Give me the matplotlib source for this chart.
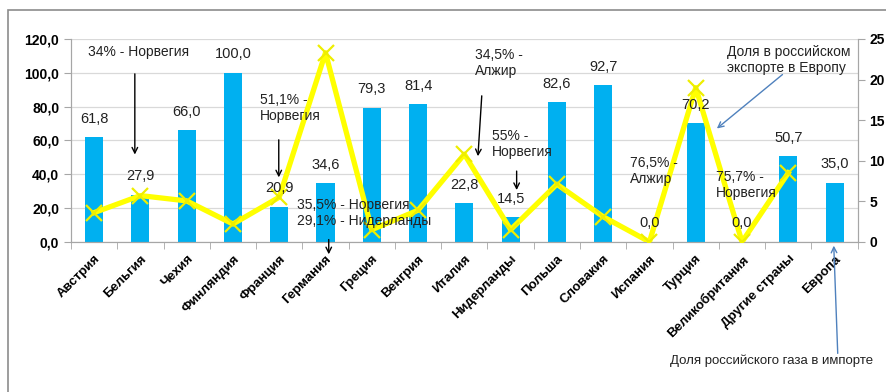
import matplotlib.pyplot as plt
import matplotlib.patches as mpatches
import numpy as np

countries = ['Австрия', 'Бельгия', 'Чехия', 'Финляндия', 'Франция', 'Германия', 'Греция',
             'Венгрия', 'Италия', 'Нидерланды', 'Польша', 'Словакия', 'Испания', 'Турция',
             'Великобритания', 'Другие страны', 'Европа']
# доля российского газа в импорте, %
import_share = [61.8, 27.9, 66.0, 100.0, 20.9, 34.6, 79.3, 81.4, 22.8, 14.5, 82.6, 92.7,
                0.0, 70.2, 0.0, 50.7, 35.0]
# доля в российском экспорте в Европу, %
export_share = [3.6, 5.7, 5.05, 2.2, 5.5, 23.3, 1.5, 3.9, 10.8, 1.5, 7.1, 3.1,
                0.0, 19.0, 0.0, 8.5, np.nan]

plt.rcParams['font.family'] = ['Liberation Sans', 'DejaVu Sans']

fig = plt.figure(figsize=(8.87, 3.92), dpi=100)
ax = fig.add_axes([0.080, 0.383, 0.887, 0.5176])
ax2 = ax.twinx()

x = np.arange(len(countries))
ax.bar(x, import_share, width=0.39, color='#00B0F0', zorder=2)
ax2.plot(x, export_share, color='#FFFF00', linewidth=3.8, marker='x', markersize=11,
         markeredgewidth=1.6, markeredgecolor='#EEEE00', zorder=3)

ax.set_xlim(-0.5, len(countries) - 0.5)
ax.set_ylim(0, 120)
ax2.set_ylim(0, 25)
ax.set_yticks(np.arange(0, 121, 20))
ax.set_yticklabels([f'{v:.1f}'.replace('.', ',') for v in range(0, 121, 20)],
                   fontweight='bold', fontsize=10)
ax2.set_yticks(np.arange(0, 26, 5))
ax2.set_yticklabels([str(v) for v in range(0, 26, 5)], fontweight='bold', fontsize=10)
ax.grid(axis='y', color='#D9D9D9', linewidth=0.9, zorder=0)
ax.set_axisbelow(True)

ax.set_xticks(x)
ax.set_xticklabels(countries, rotation=45, ha='right', rotation_mode='anchor',
                   fontweight='bold', fontsize=9.5)
ax.tick_params(axis='x', length=0, pad=8)
ax.set_xticks(np.arange(-0.5, len(countries), 1), minor=True)
ax.tick_params(axis='x', which='minor', length=5, color='#A6A6A6')
ax.tick_params(axis='y', length=5, color='#A6A6A6')
ax2.tick_params(axis='y', length=5, color='#A6A6A6')

for a in (ax, ax2):
    a.spines['top'].set_visible(False)
    for s in ('left', 'right', 'bottom'):
        a.spines[s].set_color('#A6A6A6')

# подписи столбцов
for xi, v in zip(x, import_share):
    ax2.text(xi, v + 11, f'{v:.1f}'.replace('.', ','), transform=ax.transData,
             ha='center', va='center', fontsize=10.5, color='#222222', zorder=5)


def note(text, xytext, ha='left', size=10):
    ax2.annotate(text, xy=xytext, xytext=xytext, xycoords=ax.transData,
                 textcoords=ax.transData, ha=ha, va='center', fontsize=size,
                 color='#222222', annotation_clip=False, zorder=6)


def arrow(tip, tail, color='black'):
    ax2.annotate('', xy=tip, xytext=tail, xycoords=ax.transData,
                 arrowprops=dict(arrowstyle='->', color=color, lw=1.0),
                 annotation_clip=False, zorder=6)


note('34% - Норвегия', (0.95, 112), ha='center')
arrow((0.88, 50), (0.88, 101))
note('51,1% -\nНорвегия', (3.58, 79))
arrow((3.99, 36.5), (3.99, 62))
note('35,5% - Норвегия\n29,1% - Нидерланды', (4.38, 17))
arrow((5.07, -9), (5.07, 3))
note('34,5% -\nАлжир', (8.23, 106))
arrow((8.29, 49), (8.38, 88))
note('55% -\nНорвегия', (8.59, 58))
arrow((9.13, 29), (9.13, 43.5))
note('76,5% -\nАлжир', (11.57, 42))
note('75,7% -\nНорвегия', (13.43, 33.5))
note('Доля в российском\nэкспорте в Европу', (13.67, 107.6))
arrow((13.41, 66), (14.92, 100), color='#4F81BD')
note('Доля российского газа в импорте', (12.45, -70.6), size=9.5)
arrow((15.98, -0.6), (16.07, -67.6), color='#4F81BD')

# рамка диаграммы
fig.patches.append(mpatches.Rectangle((8 / 887, -0.05), 1.0, 1 - 10 / 392 + 0.05,
                                      transform=fig.transFigure, fill=False,
                                      edgecolor='#8C8C8C', linewidth=1.2))

fig.savefig('out.png', dpi=100)
